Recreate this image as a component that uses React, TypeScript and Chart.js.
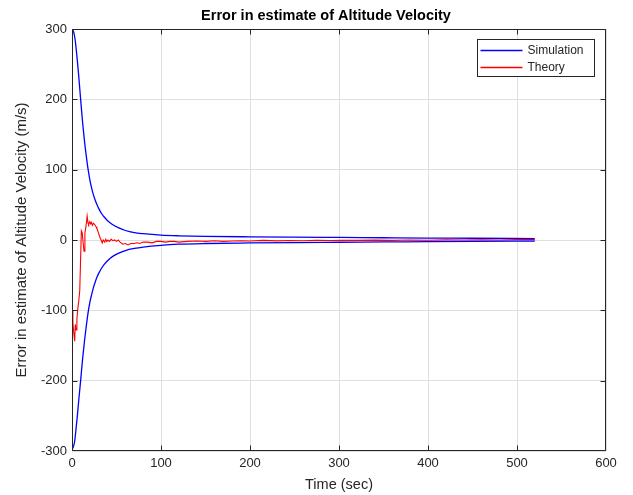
import React, { useEffect, useRef } from "react";
import { Chart, registerables } from "chart.js";

Chart.register(...registerables);

// Envelope (Simulation) – upper bound
const upperTime = [0, 1, 2, 3, 3.7, 5, 6, 7.5, 9.7, 12, 14, 16, 18, 20, 22, 24, 26, 28, 30, 33, 36, 40, 45, 52, 60, 70, 80, 100, 120, 150, 200, 250, 300, 350, 400, 450, 520];
const upperValue = [300, 298.5, 295, 289, 283, 268, 255, 234, 200, 166, 141, 120, 101, 86, 74, 64.5, 57, 50.5, 45, 38, 33, 27.5, 22.5, 17.5, 13.5, 10.5, 9, 7, 6, 5.2, 4.5, 4, 3.6, 3.2, 2.8, 2.5, 2];

// Envelope (Simulation) – lower bound
const lowerTime = [0, 1, 2, 3, 4.9, 6, 7.5, 9.7, 12, 14, 16, 18, 20, 22, 24, 26, 28, 30, 33, 36, 40, 45, 52, 60, 70, 80, 100, 120, 150, 200, 250, 300, 350, 400, 450, 520];
const lowerValue = [-297, -295.5, -292, -286, -264, -250, -229, -200, -168, -144, -123, -104, -89, -78, -68, -60, -53, -47.5, -40.5, -35, -29.5, -24, -19, -15, -12, -10, -7.5, -6, -5, -4.2, -3.6, -3.2, -2.8, -2.4, -2, -1.5];

// Theory
const theoryTime = [
  0, 1, 2, 3, 3.7, 4.5, 5.5, 6.5, 7.5, 8.7,
  9.5, 10.5, 11.5, 12.5, 13.5, 14.5, 15.5, 16.5, 17, 18,
  18.7, 20, 21, 21.7, 23, 24, 25.5, 27, 28, 29,
  30, 31, 32, 33, 34, 35, 36.7, 38, 39, 40.5,
  42, 44, 46, 48, 50, 52, 54, 57, 60, 63,
  66, 70, 73, 76, 80, 85, 90, 95, 100, 105,
  110, 115, 120, 130, 140, 150, 160, 170, 180, 190,
  200, 215, 230, 245, 260, 275, 290, 305, 320, 340,
  360, 380, 400, 420, 440, 460, 480, 500, 520
];
const theoryValue = [
  -100, -118, -132, -144, -120, -128, -112, -98, -88, -72,
  -35, 13, 10, -4, -16, 10, 18, 28, 34, 24,
  22, 26, 23, 25, 21, 24, 22, 19, 16, 13,
  9, 5, 2, -1, -4, 0, -3, 1, -2, 0,
  -2, 1, -1, 0, -2, 0, -3, -6, -5, -7,
  -5, -5, -4, -5, -3, -3, -4, -2, -2, -3,
  -2, -2, -3, -2, -1.5, -2, -1, -2, -1.5, -1,
  -1.5, -0.5, -1.2, -0.8, -1, -0.5, -0.8, -0.3, -0.6, -0.2,
  -0.5, 0, -0.3, 0.2, 0, 0.4, 0.1, 0.5, 0.6
];

const xTicks = [0, 100, 200, 300, 400, 500, 600];
const yTicks = [-300, -200, -100, 0, 100, 200, 300];

const titleText = "Error in estimate of Altitude Velocity";
const xLabel = "Time (sec)";
const yLabel = "Error in estimate of Altitude Velocity (m/s)";

const AXIS = "#262626";
const GRID = "#dfdfdf";
const FONT = "'Liberation Sans', Arial, Helvetica, sans-serif";

const toPts = (t: number[], v: number[]) => t.map((x, i) => ({ x, y: v[i] }));

const frame = {
  id: "matlabFrame",
  afterDatasetsDraw(chart: any) {
    const { ctx, chartArea: a, scales } = chart;
    ctx.save();
    ctx.strokeStyle = AXIS;
    ctx.lineWidth = 1;
    const L = Math.round(a.left) + 0.5;
    const R = Math.round(a.right) - 0.5;
    const T = Math.round(a.top) + 0.5;
    const B = Math.round(a.bottom) - 0.5;
    ctx.beginPath();
    ctx.rect(L, T, R - L, B - T);
    ctx.stroke();
    const tl = 5;
    const cl = (v: number, lo: number, hi: number) => Math.min(hi, Math.max(lo, v));
    ctx.beginPath();
    xTicks.forEach((v) => {
      const x = cl(Math.round(scales.x.getPixelForValue(v)) + 0.5, L, R);
      ctx.moveTo(x, B);
      ctx.lineTo(x, B - tl);
      ctx.moveTo(x, T);
      ctx.lineTo(x, T + tl);
    });
    yTicks.forEach((v) => {
      const y = cl(Math.round(scales.y.getPixelForValue(v)) + 0.5, T, B);
      ctx.moveTo(L, y);
      ctx.lineTo(L + tl, y);
      ctx.moveTo(R, y);
      ctx.lineTo(R - tl, y);
    });
    ctx.stroke();

    // title, centred over the axes
    ctx.fillStyle = "#000000";
    ctx.font = `bold 14.5px ${FONT}`;
    ctx.textAlign = "center";
    ctx.textBaseline = "middle";
    ctx.fillText(titleText, (a.left + a.right) / 2 - 13, 15.5);

    // legend box
    const lx = 477.5, ly = 39.5, lw = 117, lh = 37;
    ctx.fillStyle = "#ffffff";
    ctx.fillRect(lx, ly, lw, lh);
    ctx.strokeStyle = AXIS;
    ctx.lineWidth = 1;
    ctx.strokeRect(lx, ly, lw, lh);
    const items = [
      { label: chart.data.datasets[0].label, color: chart.data.datasets[0].borderColor },
      { label: chart.data.datasets[2].label, color: chart.data.datasets[2].borderColor },
    ];
    ctx.font = `12px ${FONT}`;
    ctx.textBaseline = "middle";
    ctx.textAlign = "left";
    items.forEach((it, i) => {
      const y = ly + 11 + i * 17;
      ctx.strokeStyle = it.color;
      ctx.lineWidth = 1.5;
      ctx.beginPath();
      ctx.moveTo(lx + 3, y);
      ctx.lineTo(lx + 45, y);
      ctx.stroke();
      ctx.fillStyle = AXIS;
      ctx.fillText(it.label, lx + 50, y + 0.5);
    });
    ctx.restore();
  },
};

export default function App() {
  const ref = useRef<HTMLCanvasElement>(null);
  useEffect(() => {
    document.body.style.margin = "0";
    const chart = new Chart(ref.current!, {
      type: "line",
      data: {
        datasets: [
          {
            label: "Simulation",
            data: toPts(upperTime, upperValue),
            borderColor: "#0000ff",
            borderWidth: 1.3,
            pointRadius: 0,
            cubicInterpolationMode: "monotone",
          },
          {
            label: "Simulation",
            data: toPts(lowerTime, lowerValue),
            borderColor: "#0000ff",
            borderWidth: 1.3,
            pointRadius: 0,
            cubicInterpolationMode: "monotone",
          },
          {
            label: "Theory",
            data: toPts(theoryTime, theoryValue),
            borderColor: "#ff0000",
            borderWidth: 1.1,
            pointRadius: 0,
            tension: 0,
          },
        ],
      },
      options: {
        responsive: false,
        animation: false,
        layout: { padding: { left: 0, right: 27, top: 29, bottom: 0 } },
        plugins: {
          legend: { display: false },
          tooltip: { enabled: false },
          title: { display: false },
        },
        scales: {
          x: {
            type: "linear",
            min: 0,
            max: 600,
            afterFit: (s: any) => { s.height = 44; },
            afterBuildTicks: (s: any) => { s.ticks = xTicks.map((v) => ({ value: v })); },
            ticks: { color: AXIS, padding: 5, font: { family: FONT, size: 13 }, maxRotation: 0 },
            grid: { color: GRID, drawTicks: false, lineWidth: 1 },
            border: { display: false },
            title: {
              display: true,
              text: xLabel,
              color: AXIS,
              font: { family: FONT, size: 14.5 },
              padding: { top: 0, bottom: 1.6 },
            },
          },
          y: {
            type: "linear",
            min: -300,
            max: 300,
            afterFit: (s: any) => { s.width = 72; },
            afterBuildTicks: (s: any) => { s.ticks = yTicks.map((v) => ({ value: v })); },
            ticks: { color: AXIS, padding: 5, font: { family: FONT, size: 13 } },
            grid: { color: GRID, drawTicks: false, lineWidth: 1 },
            border: { display: false },
            title: {
              display: true,
              text: yLabel,
              color: AXIS,
              font: { family: FONT, size: 15 },
              padding: { top: 13, bottom: 0 },
            },
          },
        },
      },
      plugins: [frame],
    });
    return () => chart.destroy();
  }, []);
  return (
    <div style={{ position: "absolute", left: 0, top: 0, width: 633, height: 495, background: "#ffffff" }}>
      <canvas ref={ref} width={633} height={495} style={{ display: "block" }} />
    </div>
  );
}
